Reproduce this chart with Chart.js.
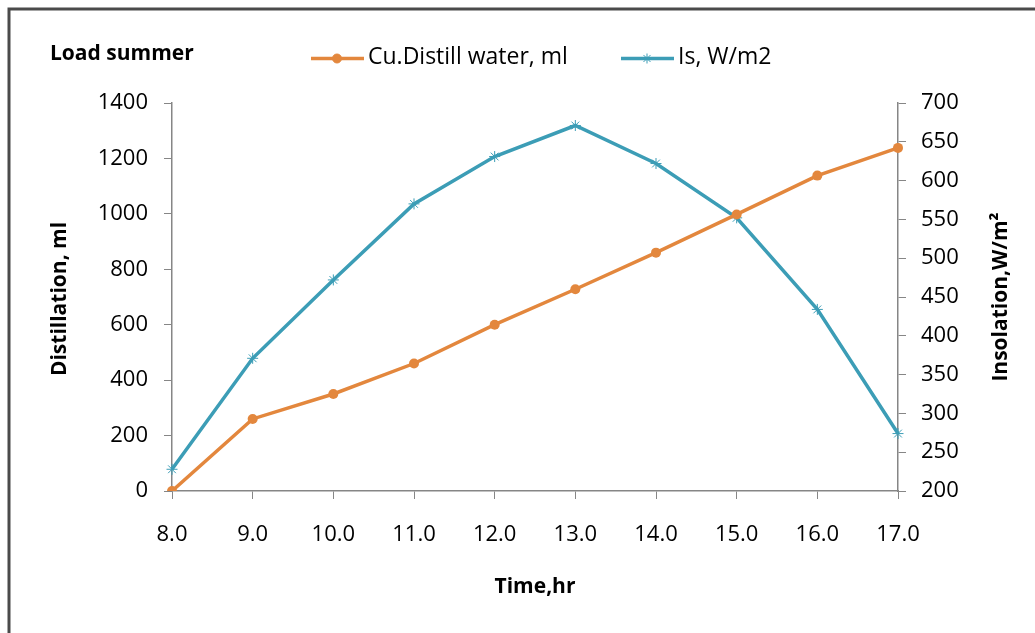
<!DOCTYPE html>
<html>
<head>
<meta charset="utf-8">
<script src="https://cdn.jsdelivr.net/npm/chart.js@4.4.1/dist/chart.umd.min.js"></script>
<style>
  html, body { margin: 0; padding: 0; background: #fff; }
  #wrap { width: 1035px; height: 633px; position: relative; }
</style>
</head>
<body>
<div id="wrap"><canvas id="chart-load" width="1035" height="633"></canvas></div>
<script>
/* Data */

var hours = [ "8.0", "9.0", "10.0", "11.0", "12.0", "13.0", "14.0", "15.0", "16.0", "17.0" ];
var distillWater = [ 0, 260, 350, 460, 600, 728, 860, 998, 1138, 1238 ];
var insolation = [ 228, 371, 472, 570, 631, 671, 622, 552, 434, 274 ];

var orange = '#E3873D';
var blue = '#3C9DB6';
var axisGrey = '#868686';
var fontName = '"Open Sans", "DejaVu Sans", sans-serif';

/* Texts, frame and legend */

var extras = {
	id: 'extras',
	afterDraw: function( chart ) {
		var ctx = chart.ctx;
		var area = chart.chartArea;
		ctx.save();

		// outer frame (only top and left edges show)
		ctx.strokeStyle = '#4a4a4a';
		ctx.lineWidth = 3;
		ctx.beginPath();
		ctx.moveTo( 9, 640 );
		ctx.lineTo( 9, 9 );
		ctx.lineTo( 1040, 9 );
		ctx.stroke();

		ctx.fillStyle = '#000';
		ctx.font = 'bold 21px ' + fontName;
		ctx.textBaseline = 'middle';
		ctx.textAlign = 'left';
		ctx.fillText( 'Load summer', 50, 54 );

		// x title
		ctx.textAlign = 'center';
		ctx.fillText( 'Time,hr', ( area.left + area.right ) / 2, 587 );

		// left title
		ctx.save();
		ctx.translate( 60, 299 );
		ctx.rotate( -Math.PI / 2 );
		ctx.fillText( 'Distillation, ml', 0, 0 );
		ctx.restore();

		// right title
		ctx.save();
		ctx.translate( 1001, 297 );
		ctx.rotate( -Math.PI / 2 );
		ctx.fillText( 'Insolation,W/m\u00B2', 0, 0 );
		ctx.restore();

		// legend
		var items = [
			{ label: 'Cu.Distill water, ml', color: orange, x: 311, style: 'circle' },
			{ label: 'Is, W/m2', color: blue, x: 621, style: 'star' }
		];
		ctx.font = '23px ' + fontName;
		ctx.textAlign = 'left';
		items.forEach(function( it ) {
			var y = 58.5;
			ctx.strokeStyle = it.color;
			ctx.fillStyle = it.color;
			ctx.lineWidth = 3.5;
			ctx.beginPath();
			ctx.moveTo( it.x, y );
			ctx.lineTo( it.x + 53, y );
			ctx.stroke();
			ctx.lineWidth = 1;
			Chart.helpers.drawPoint( ctx, {
				pointStyle: it.style,
				radius: it.style === 'circle' ? 4.5 : 5,
				rotation: 0,
				borderWidth: 1
			}, it.x + 26, y );
			ctx.fillStyle = '#000';
			ctx.fillText( it.label, it.x + 57, y - 1 );
		});

		ctx.restore();
	}
};

/* Chart */

var plainTick = function( value ) { return String( value ); };

var ctxload = document.getElementById("chart-load").getContext('2d');
var myChart = new Chart(ctxload, {
	type: 'line',
	data: {
		labels: hours,
		datasets: [{
			label: 'Cu.Distill water, ml',
			data: distillWater,
			yAxisID: 'y',
			borderColor: orange,
			backgroundColor: orange,
			borderWidth: 3.5,
			pointStyle: 'circle',
			pointRadius: 5,
			pointBorderWidth: 0,
			tension: 0
		}, {
			label: 'Is, W/m2',
			data: insolation,
			yAxisID: 'y1',
			borderColor: blue,
			backgroundColor: blue,
			borderWidth: 3.5,
			pointStyle: 'star',
			pointRadius: 5.5,
			pointBorderWidth: 1,
			tension: 0
		}]
	},
	options: {
		responsive: false,
		animation: false,
		devicePixelRatio: 1,
		layout: { padding: { top: 103, left: 0, right: 0, bottom: 0 } },
		plugins: {
			legend: { display: false },
			tooltip: { enabled: false }
		},
		scales: {
			x: {
				offset: false,
				grid: { drawOnChartArea: false, drawTicks: true, tickLength: 8, color: axisGrey },
				border: { color: axisGrey, width: 1.5 },
				ticks: { color: '#000', font: { family: fontName, size: 22 }, padding: 23, maxRotation: 0 },
				afterFit: function( scale ) { scale.height = 142; }
			},
			y: {
				position: 'left',
				min: 0, max: 1400,
				grid: { drawOnChartArea: false, drawTicks: true, tickLength: 8, color: axisGrey },
				border: { color: axisGrey, width: 1.5 },
				ticks: { stepSize: 200, color: '#000', font: { family: fontName, size: 22 }, padding: 16, callback: plainTick },
				afterFit: function( scale ) { scale.width = 172; }
			},
			y1: {
				position: 'right',
				min: 200, max: 700,
				grid: { drawOnChartArea: false, drawTicks: true, tickLength: 8, color: axisGrey },
				border: { color: axisGrey, width: 1.5 },
				ticks: { stepSize: 50, color: '#000', font: { family: fontName, size: 22 }, padding: 15, callback: plainTick },
				afterFit: function( scale ) { scale.width = 137; }
			}
		}
	},
	plugins: [ extras ]
});
</script>
</body>
</html>
